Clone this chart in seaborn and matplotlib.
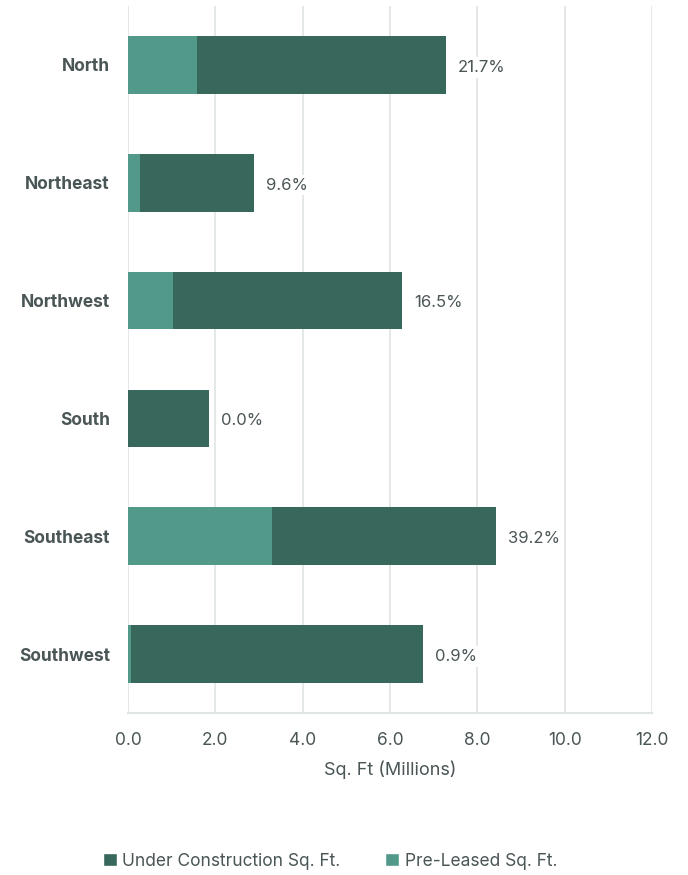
import matplotlib
matplotlib.use("Agg")
import matplotlib.pyplot as plt
from matplotlib.patches import Patch
import seaborn as sns
import pandas as pd

regions = ["North", "Northeast", "Northwest", "South", "Southeast", "Southwest"]
under_construction = [7.28, 2.89, 6.28, 1.86, 8.43, 6.76]  # millions sq. ft.
pre_leased_pct = [21.7, 9.6, 16.5, 0.0, 39.2, 0.9]
pre_leased = [u * p / 100 for u, p in zip(under_construction, pre_leased_pct)]
x_ticks = [0, 2, 4, 6, 8, 10, 12]

dark = "#38675b"
light = "#52998a"
text_col = "#4a5556"
grid_col = "#dfe4e4"

df = pd.DataFrame({"region": regions, "total": under_construction, "pre": pre_leased})

sns.set_theme(style="white")
plt.rcParams["font.family"] = ["Inter", "DejaVu Sans"]

fig = plt.figure(figsize=(6.88, 8.75), dpi=100)
ax = fig.add_axes([128 / 688, 1 - 713 / 875, 524 / 688, 707 / 875])

sns.barplot(data=df, y="region", x="total", color=dark, width=0.49,
            orient="h", ax=ax, saturation=1, edgecolor="none")
sns.barplot(data=df, y="region", x="pre", color=light, width=0.49,
            orient="h", ax=ax, saturation=1, edgecolor="none")

for i, (t, p) in enumerate(zip(under_construction, pre_leased_pct)):
    ax.text(t + 0.28, i + 0.02, f"{p:.1f}%", va="center", ha="left", fontsize=12,
            color=text_col,
            bbox=dict(facecolor="white", edgecolor="none", pad=2))

ax.set_xlim(0, 12)
ax.set_xticks(x_ticks)
ax.set_xticklabels([f"{v:.1f}" for v in x_ticks])
ax.xaxis.grid(True, color=grid_col, linewidth=1.2)
ax.set_axisbelow(True)
for s in ["top", "right", "left"]:
    ax.spines[s].set_visible(False)
ax.spines["bottom"].set_color(grid_col)
ax.spines["bottom"].set_linewidth(1.5)

ax.tick_params(axis="x", length=0, pad=14, labelsize=12.5, labelcolor=text_col)
ax.tick_params(axis="y", length=0, pad=13, labelsize=12.5, labelcolor=text_col)
for lbl in ax.get_yticklabels():
    lbl.set_fontweight("bold")
ax.set_ylabel("")
ax.set_xlabel("Sq. Ft (Millions)", fontsize=13, color=text_col, labelpad=8)

handles = [Patch(facecolor=dark, label="Under Construction Sq. Ft."),
           Patch(facecolor=light, label="Pre-Leased Sq. Ft.")]
fig.legend(handles=handles, loc="center", bbox_to_anchor=(330 / 688, 1 - 861 / 875),
           ncol=2, frameon=False, fontsize=12.5, handlelength=0.8, handleheight=0.8,
           handletextpad=0.3, columnspacing=2.6, labelcolor=text_col)

fig.savefig("out.png", dpi=100, facecolor="white")
